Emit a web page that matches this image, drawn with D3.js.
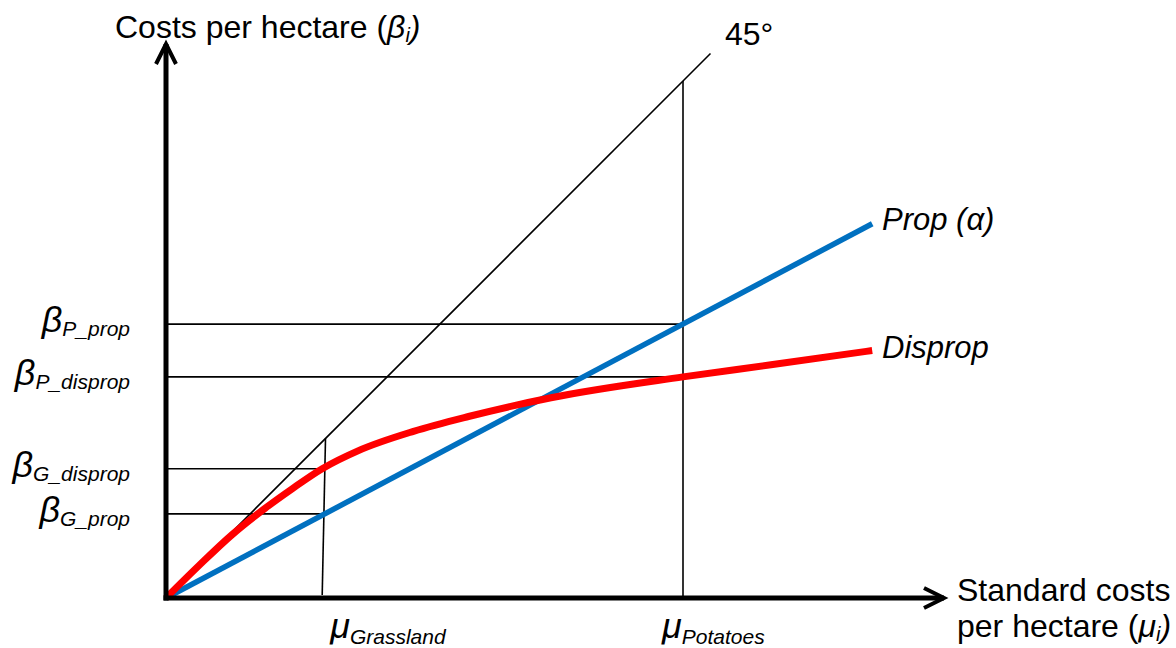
<!DOCTYPE html>
<html>
<head>
<meta charset="utf-8" />
<title>costs per hectare</title>
<script src="https://cdn.jsdelivr.net/npm/d3@7"></script>
<style>
  body { margin: 0; background: #fff; }
  text { font-family: "Liberation Sans", Arial, sans-serif; fill: #000; }
</style>
</head>
<body>
<svg width="1176" height="648"></svg>
<script>
// data (in "units", same scale on both axes so the 45° line is a true diagonal)
var muGrass = 28.4, muPotato = 94;
var propSlope = 0.53;                      // Prop (alpha)
var propEnd = 128.4;
var dispropPts = [[0,0],[6,5.9],[12,11.5],[18,16.3],[23,19.9],[28.4,23.5],[35,26.8],[45,30.3],[55,33],[70,36.4],[94,40.2],[110,42.4],[128.4,45]];
var diagEnd = 99;
var levels = [
  {name:"P_prop",    v:49.8, x:muPotato},
  {name:"P_disprop", v:40.2, x:muPotato},
  {name:"G_disprop", v:23.5, x:muGrass},
  {name:"G_prop",    v:15.3, x:muGrass}
];
var mus = [{name:"Grassland", v:muGrass}, {name:"Potatoes", v:muPotato}];

var svg = d3.select("svg");
var x = d3.scaleLinear().domain([0, 142]).range([166, 166 + 5.5*142]);
var y = d3.scaleLinear().domain([0, 100]).range([598, 48]);

// thin black helper lines
var thin = svg.append("g").attr("stroke","#000").attr("stroke-width",1.6).attr("fill","none");
thin.append("line").attr("x1",x(0)).attr("y1",y(0)).attr("x2",x(diagEnd)).attr("y2",y(diagEnd));
thin.append("line").attr("x1",x(muPotato)).attr("y1",y(muPotato)).attr("x2",x(muPotato)).attr("y2",y(0));
thin.append("line").attr("x1",x(muGrass+0.6)).attr("y1",y(muGrass+0.6)).attr("x2",x(muGrass)).attr("y2",y(0)-3);
thin.selectAll("line.lvl").data(levels).enter().append("line").attr("class","lvl")
  .attr("x1",x(0)).attr("x2",function(d){return x(d.x);})
  .attr("y1",function(d){return y(d.v);}).attr("y2",function(d){return y(d.v);});

// Prop line
svg.append("line")
  .attr("x1",x(0)).attr("y1",y(0)).attr("x2",x(propEnd)).attr("y2",y(propEnd*propSlope))
  .attr("stroke","#0070c0").attr("stroke-width",5.5);

// Disprop curve
var line = d3.line().x(function(d){return x(d[0]);}).y(function(d){return y(d[1]);}).curve(d3.curveMonotoneX);
svg.append("path").datum(dispropPts).attr("d",line)
  .attr("fill","none").attr("stroke","#ff0000").attr("stroke-width",7);

// axes with open arrowheads
var ax = svg.append("g").attr("stroke","#000").attr("fill","none").attr("stroke-width",5);
ax.append("line").attr("x1",x(0)).attr("y1",y(0)+2.5).attr("x2",x(0)).attr("y2",44);
ax.append("line").attr("x1",x(0)-2.5).attr("y1",y(0)).attr("x2",944).attr("y2",y(0));
ax.append("path").attr("stroke-width",4).attr("stroke-linejoin","miter")
  .attr("d","M156,64L166,44L176,64");
ax.append("path").attr("stroke-width",4).attr("stroke-linejoin","miter")
  .attr("d","M924,588L944,598L924,608");

// texts
function sub(t, main, s, dy){
  t.append("tspan").style("font-style","italic").style("font-size","36px").text(main);
  t.append("tspan").style("font-style","italic").style("font-size","21px").attr("dy",dy).text(s);
}
var yTitle = svg.append("text").attr("x",115).attr("y",38).style("font-size","32px");
yTitle.append("tspan").text("Costs per hectare (");
yTitle.append("tspan").style("font-style","italic").text("β");
yTitle.append("tspan").style("font-style","italic").style("font-size","20px").attr("dy",4).text("i");
yTitle.append("tspan").style("font-style","italic").attr("dy",-4).text(")");

svg.append("text").attr("x",725).attr("y",45).style("font-size","32px").text("45°");
svg.append("text").attr("x",882).attr("y",230).style("font-size","31px").style("font-style","italic").text("Prop (α)");
svg.append("text").attr("x",882).attr("y",358).style("font-size","31px").style("font-style","italic").text("Disprop");

svg.selectAll("text.lvl").data(levels).enter().append("text").attr("class","lvl")
  .attr("text-anchor","end").attr("x",130)
  .attr("y",function(d){return y(d.v)+8;})
  .each(function(d){ sub(d3.select(this), "β", d.name, 4); });

var muShift = [8, -21];
svg.selectAll("text.mu").data(mus).enter().append("text").attr("class","mu")
  .attr("x",function(d,i){return x(d.v)+muShift[i];}).attr("y",638)
  .each(function(d){ sub(d3.select(this), "μ", d.name, 6); });

var xl = svg.append("text").attr("x",957).attr("y",601).style("font-size","32px");
xl.append("tspan").text("Standard costs");
var xl2 = svg.append("text").attr("x",957).attr("y",637).style("font-size","32px");
xl2.append("tspan").text("per hectare (");
xl2.append("tspan").style("font-style","italic").text("μ");
xl2.append("tspan").style("font-style","italic").style("font-size","20px").attr("dy",4).text("i");
xl2.append("tspan").style("font-style","italic").attr("dy",-4).text(")");
</script>
</body>
</html>
